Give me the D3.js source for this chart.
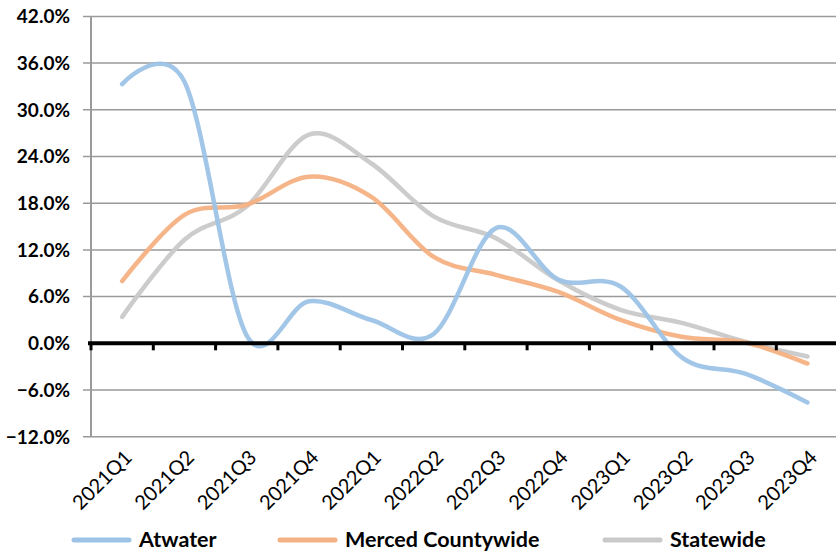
<!DOCTYPE html>
<html>
<head>
<meta charset="utf-8">
<script src="https://cdn.jsdelivr.net/npm/d3@7"></script>
<style>
  body { margin: 0; background: #fff; }
  svg { display: block; font-family: Lato, "Open Sans", sans-serif; }
</style>
</head>
<body>
<div class="chart"></div>
<script>
let quarters = ["2021Q1", "2021Q2", "2021Q3", "2021Q4", "2022Q1", "2022Q2",
                "2022Q3", "2022Q4", "2023Q1", "2023Q2", "2023Q3", "2023Q4"]
let atwater  = [33.3, 33.6, 1.0, 5.4, 3.0, 1.2, 14.8, 8.2, 7.3, -1.9, -3.9, -7.6]
let merced   = [8.0, 16.5, 17.8, 21.4, 18.8, 11.1, 8.8, 6.6, 3.0, 0.8, 0.1, -2.6]
let statewide = [3.4, 13.3, 17.6, 26.8, 23.1, 16.3, 13.5, 8.1, 4.3, 2.6, 0.2, -1.7]
let yTicks = [-12, -6, 0, 6, 12, 18, 24, 30, 36, 42]

let series = [
    {name: "Atwater", values: atwater, color: "#9dc3e6"},
    {name: "Merced Countywide", values: merced, color: "#f4b183"},
    {name: "Statewide", values: statewide, color: "#c9c9c9"}
]

let outerWidth = 836
let outerHeight = 552
let margin = {top: 16.4, left: 91, right: -2.6, bottom: 115.3}
let width = outerWidth - margin.left - margin.right
let height = outerHeight - margin.top - margin.bottom

let svg = d3.select(".chart")
    .append("svg")
    .attr("width", outerWidth)
    .attr("height", outerHeight)

let g = svg.append("g")
    .attr("transform", `translate(${margin.left}, ${margin.top})`)

// Scales
let xScale = d3.scaleBand()
    .domain(quarters)
    .range([0, width])

let yScale = d3.scaleLinear()
    .domain([-12, 42])
    .range([height, 0])

// Gridlines
g.append("g")
    .selectAll("line")
    .data(yTicks.filter(d => d !== 0))
    .enter()
    .append("line")
    .attr("x1", -8)
    .attr("x2", width)
    .attr("y1", d => yScale(d))
    .attr("y2", d => yScale(d))
    .attr("stroke", "#9a9a9a")
    .attr("stroke-width", 1.5)

// Y axis line
g.append("line")
    .attr("x1", 0).attr("x2", 0)
    .attr("y1", 0).attr("y2", height)
    .attr("stroke", "#9a9a9a")
    .attr("stroke-width", 2)

// Y labels
g.append("g")
    .selectAll("text")
    .data(yTicks)
    .enter()
    .append("text")
    .attr("x", -21)
    .attr("y", d => yScale(d))
    .attr("dy", "0.36em")
    .attr("text-anchor", "end")
    .attr("font-size", 19)
    .attr("font-weight", "bold")
    .attr("fill", "#000")
    .text(d => d3.format(".1f")(d) + "%")

// Lines (Excel-style smoothing)
let line = d3.line()
    .x((d, i) => xScale(quarters[i]) + xScale.bandwidth() / 2)
    .y(d => yScale(d))
    .curve(d3.curveCardinal.tension(0))

// draw statewide first, then merced, then atwater on top
g.append("g")
    .selectAll("path")
    .data(series.slice().reverse())
    .enter()
    .append("path")
    .attr("d", d => line(d.values))
    .attr("fill", "none")
    .attr("stroke", d => d.color)
    .attr("stroke-width", 4.5)
    .attr("stroke-linecap", "round")
    .attr("opacity", 0.95)

// Zero line with category ticks
g.append("line")
    .attr("x1", -3)
    .attr("x2", width)
    .attr("y1", yScale(0))
    .attr("y2", yScale(0))
    .attr("stroke", "#000")
    .attr("stroke-width", 4)

g.append("g")
    .selectAll("line")
    .data(quarters)
    .enter()
    .append("line")
    .attr("x1", d => xScale(d))
    .attr("x2", d => xScale(d))
    .attr("y1", yScale(0))
    .attr("y2", yScale(0) + 7)
    .attr("stroke", "#000")
    .attr("stroke-width", 3)

// X labels
g.append("g")
    .selectAll("text")
    .data(quarters)
    .enter()
    .append("text")
    .attr("transform", d => `translate(${xScale(d) + xScale.bandwidth() / 2 + 11}, ${height + 22}) rotate(-45)`)
    .attr("text-anchor", "end")
    .attr("font-size", 20)
    .attr("fill", "#000")
    .text(d => d)

// Legend
let legendX = [74, 280, 605]
let legend = svg.append("g")
    .selectAll("g")
    .data(series)
    .enter()
    .append("g")
    .attr("transform", (d, i) => `translate(${legendX[i]}, 540)`)

legend.append("line")
    .attr("x1", 0)
    .attr("x2", 55)
    .attr("stroke", d => d.color)
    .attr("stroke-width", 5)
    .attr("stroke-linecap", "round")

legend.append("text")
    .attr("x", 65)
    .attr("y", 6.5)
    .attr("font-size", 21.5)
    .attr("font-weight", "bold")
    .attr("fill", "#000")
    .text(d => d.name)
</script>
</body>
</html>
